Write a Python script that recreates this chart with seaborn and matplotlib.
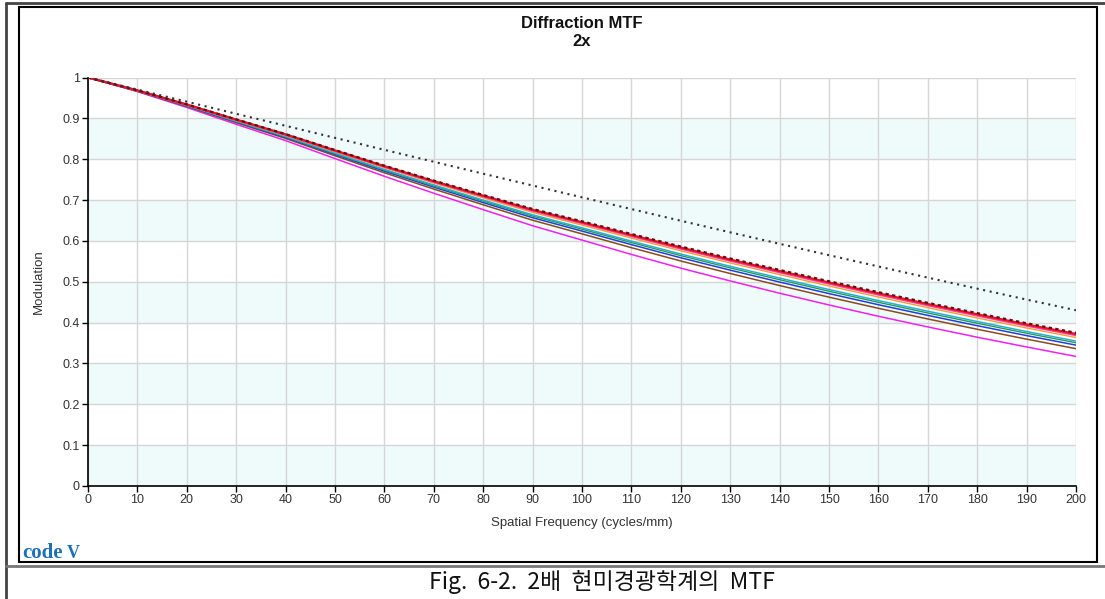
import numpy as np
import pandas as pd
import matplotlib
matplotlib.use("Agg")
import matplotlib.pyplot as plt
import seaborn as sns
from matplotlib.lines import Line2D
from matplotlib.patches import Rectangle

# ---------------- data ----------------
freq = [0, 10, 20, 30, 40, 50, 60, 70, 80, 90, 100, 110, 120, 130, 140, 150, 160, 170, 180, 190, 200]

diffraction_limit = [1.000, 0.9704, 0.9408, 0.9112, 0.8818, 0.8523, 0.8229, 0.7937, 0.7645, 0.7355, 0.7066,
                     0.6779, 0.6493, 0.6210, 0.5929, 0.5650, 0.5374, 0.5101, 0.4831, 0.4564, 0.4302]
dark_red = [1.000, 0.9685, 0.9342, 0.8975, 0.8615, 0.8225, 0.7842, 0.7477, 0.7125, 0.6781, 0.6480,
            0.6169, 0.5863, 0.5570, 0.5289, 0.5012, 0.4745, 0.4484, 0.4232, 0.3984, 0.3751]
red = [1.000, 0.9684, 0.9338, 0.8969, 0.8607, 0.8215, 0.7829, 0.7462, 0.7107, 0.6761, 0.6457,
       0.6144, 0.5837, 0.5543, 0.5261, 0.4983, 0.4716, 0.4455, 0.4203, 0.3955, 0.3722]
pink = [1.000, 0.9682, 0.9335, 0.8963, 0.8599, 0.8204, 0.7816, 0.7446, 0.7089, 0.6740, 0.6434,
        0.6119, 0.5810, 0.5515, 0.5232, 0.4954, 0.4686, 0.4425, 0.4173, 0.3926, 0.3693]
orange = [1.000, 0.9679, 0.9327, 0.8951, 0.8583, 0.8183, 0.7790, 0.7415, 0.7053, 0.6699, 0.6388,
          0.6069, 0.5757, 0.5460, 0.5175, 0.4896, 0.4627, 0.4366, 0.4114, 0.3868, 0.3635]
cyan = [1.000, 0.9675, 0.9316, 0.8933, 0.8559, 0.8152, 0.7751, 0.7369, 0.6999, 0.6638, 0.6319,
        0.5994, 0.5678, 0.5378, 0.5090, 0.4809, 0.4538, 0.4278, 0.4026, 0.3781, 0.3548]
green = [1.000, 0.9672, 0.9311, 0.8925, 0.8548, 0.8137, 0.7733, 0.7347, 0.6974, 0.6609, 0.6287,
         0.5959, 0.5640, 0.5339, 0.5050, 0.4768, 0.4497, 0.4236, 0.3984, 0.3740, 0.3507]
blue = [1.000, 0.9669, 0.9303, 0.8913, 0.8532, 0.8116, 0.7707, 0.7316, 0.6938, 0.6568, 0.6241,
        0.5909, 0.5587, 0.5284, 0.4993, 0.4710, 0.4438, 0.4177, 0.3925, 0.3682, 0.3449]
brown = [1.000, 0.9665, 0.9292, 0.8895, 0.8508, 0.8084, 0.7668, 0.7269, 0.6884, 0.6506, 0.6172,
         0.5834, 0.5508, 0.5202, 0.4907, 0.4623, 0.4350, 0.4089, 0.3837, 0.3595, 0.3362]
magenta = [1.000, 0.9655, 0.9267, 0.8855, 0.8455, 0.8015, 0.7582, 0.7167, 0.6765, 0.6371, 0.6020,
           0.5669, 0.5333, 0.5020, 0.4719, 0.4432, 0.4155, 0.3894, 0.3642, 0.3404, 0.3171]

x_ticks = list(range(0, 201, 10))
y_ticks = [0, 0.1, 0.2, 0.3, 0.4, 0.5, 0.6, 0.7, 0.8, 0.9, 1]
y_tick_labels = ["0", "0.1", "0.2", "0.3", "0.4", "0.5", "0.6", "0.7", "0.8", "0.9", "1"]

title_line1 = "Diffraction MTF"
title_line2 = "2x"
x_label = "Spatial Frequency (cycles/mm)"
y_label = "Modulation"
caption = "Fig.  6-2.  2배  현미경광학계의  MTF"

# series drawn bottom to top: (values, colour, linestyle, width)
series = [
    (magenta, "#f020f0", "-", 1.1),
    (brown, "#8b4a1c", "-", 1.1),
    (blue, "#1f3fe0", "-", 1.1),
    (green, "#2a9a4a", "-", 1.0),
    (cyan, "#22b0d8", "-", 1.1),
    (orange, "#f0a030", "-", 1.0),
    (pink, "#ff3aa8", "-", 1.6),
    (red, "#ee1020", "-", 1.6),
    (dark_red, "#601018", (0, (1.5, 1.5)), 1.6),
    (diffraction_limit, "#333333", (0, (1, 2.2)), 1.5),
]

# ---------------- figure ----------------
W, H = 1105, 599
sns.set_theme(style="white")
plt.rcParams["font.family"] = ["Liberation Sans", "DejaVu Sans"]

fig = plt.figure(figsize=(W / 100, H / 100), dpi=100)
fig.patch.set_facecolor("white")

def fx(px):
    return px / W

def fy(py):
    return 1 - py / H

ax_left, ax_right, ax_top, ax_bottom = 88, 1076, 77.5, 486
ax = fig.add_axes([fx(ax_left), fy(ax_bottom), (ax_right - ax_left) / W, (ax_bottom - ax_top) / H])
ax.set_facecolor("white")

# alternating light bands
for b in np.arange(0, 1.0, 0.2):
    ax.axhspan(b, b + 0.1, color="#effbfb", zorder=0, lw=0)

for vals, col, ls, lw in series:
    sns.lineplot(x=freq, y=vals, ax=ax, color=col, linestyle=ls, linewidth=lw, zorder=3)

ax.set_xlim(0, 200)
ax.set_ylim(0, 1)
ax.set_xticks(x_ticks)
ax.set_yticks(y_ticks)
ax.set_yticklabels(y_tick_labels)
ax.grid(True, color="#d6d6d6", linewidth=1, zorder=1)
ax.set_axisbelow(True)
for s in ["top", "right"]:
    ax.spines[s].set_visible(False)
for s in ["left", "bottom"]:
    ax.spines[s].set_color("black")
    ax.spines[s].set_linewidth(1.2)
ax.tick_params(axis="both", direction="out", length=4, width=1, color="black",
               labelsize=9, labelcolor="#333333", pad=2, left=True, bottom=True)

ax.set_xlabel(x_label, fontsize=9.5, color="#333333")
ax.set_ylabel(y_label, fontsize=9.5, color="#333333")
ax.xaxis.set_label_coords(0.5, -(523 - ax_bottom) / (ax_bottom - ax_top), transform=ax.transAxes)
ax.xaxis.label.set_va("center")
ax.yaxis.set_label_coords(-(ax_left - 39) / (ax_right - ax_left), 0.5)
ax.yaxis.label.set_va("center")

# titles
fig.text(fx(582), fy(23), title_line1, ha="center", va="center", fontsize=12, fontweight="bold", color="#111111")
fig.text(fx(582), fy(42), title_line2, ha="center", va="center", fontsize=12, fontweight="bold", color="#111111")

# logo
fig.text(fx(22), fy(558), "code", ha="left", va="baseline", fontsize=15, fontweight="bold",
         family="Liberation Serif", color="#1d6fb8")
fig.text(fx(67), fy(558), "V", ha="left", va="baseline", fontsize=13, fontweight="bold",
         family="Liberation Serif", color="#1d6fb8")

# inner chart frame
fig.add_artist(Rectangle((fx(19), fy(562)), (1097 - 19) / W, (562 - 7) / H, transform=fig.transFigure,
                         fill=False, edgecolor="black", linewidth=1.5))
# outer table lines
fig.add_artist(Line2D([fx(6), 1], [fy(3), fy(3)], transform=fig.transFigure, color="#444444", linewidth=2))
fig.add_artist(Line2D([fx(6), fx(6)], [fy(3), 0], transform=fig.transFigure, color="#444444", linewidth=2))
fig.add_artist(Line2D([fx(6), 1], [fy(566), fy(566)], transform=fig.transFigure, color="#777777", linewidth=2))

# caption
fig.text(fx(775), fy(582), caption, ha="right", va="center", fontsize=16.5,
         family=["Noto Sans CJK KR", "DejaVu Sans"], color="#111111")

fig.savefig("out.png", dpi=100, facecolor="white")
